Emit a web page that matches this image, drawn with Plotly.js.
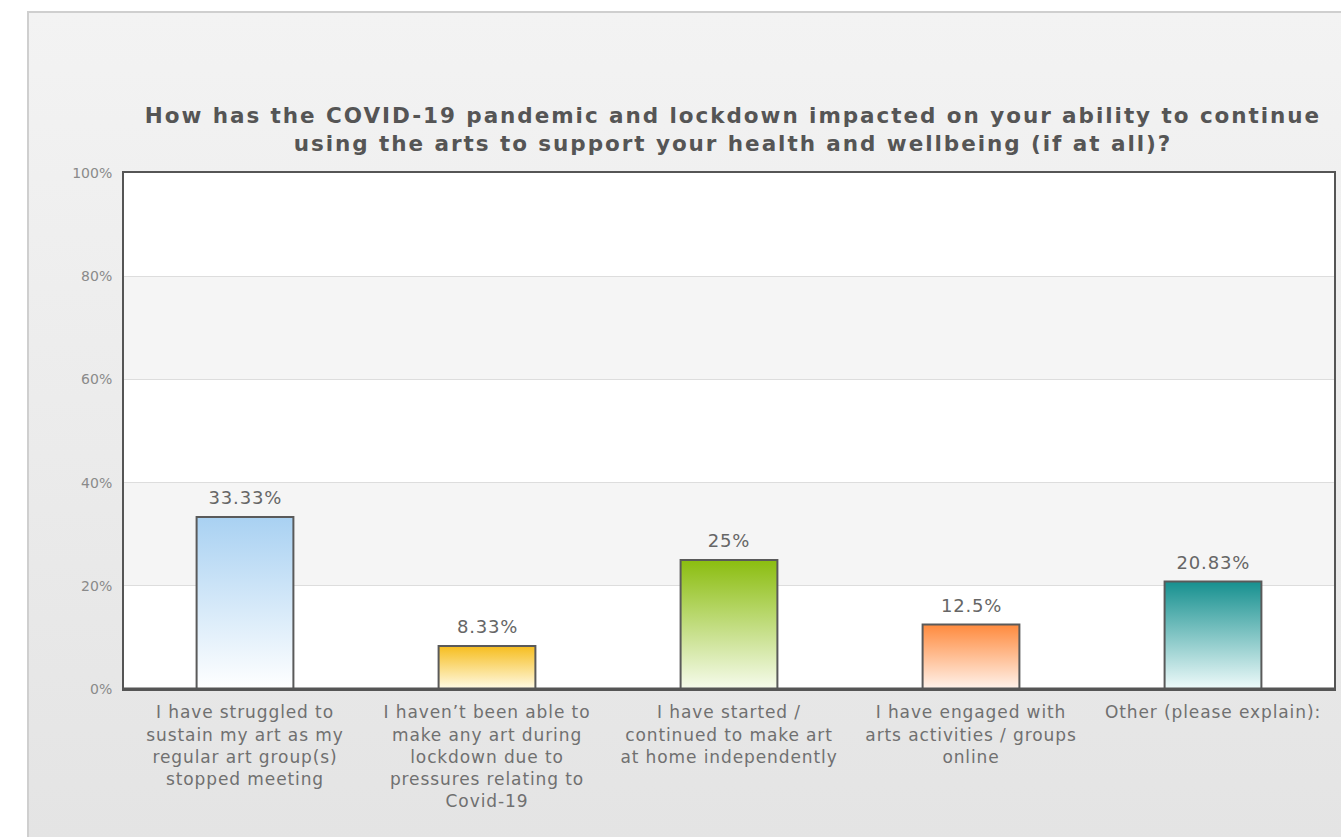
<!DOCTYPE html>
<html>
<head>
<meta charset="utf-8">
<script src="https://cdn.plot.ly/plotly-3.0.1.min.js"></script>
<style>
  html, body { margin:0; padding:0; background:#ffffff; width:1341px; height:837px; overflow:hidden; }
  #frame { position:absolute; left:27px; top:11px; width:1320px; height:830px;
           background:linear-gradient(#f3f3f3, #e4e4e4); border:2px solid #cfcfcf; box-sizing:border-box; }
  #chart { position:absolute; left:0; top:0; width:1341px; height:837px; }
</style>
</head>
<body>
<div id="frame"></div>
<div id="chart"></div>
<script>
const categories = [
  "I have struggled to<br>sustain my art as my<br>regular art group(s)<br>stopped meeting",
  "I haven’t been able to<br>make any art during<br>lockdown due to<br>pressures relating to<br>Covid-19",
  "I have started /<br>continued to make art<br>at home independently",
  "I have engaged with<br>arts activities / groups<br>online",
  "Other (please explain):"
];
const values = [33.33, 8.33, 25, 12.5, 20.83];
const valueLabels = ["33.33%", "8.33%", "25%", "12.5%", "20.83%"];
const topColors = ["#a9d1f2", "#f6bd1e", "#8bbd0f", "#ff8a3d", "#16908f"];
const bottomColors = ["#ffffff", "#fffbe6", "#f6fbec", "#fff3ec", "#eefafa"];
const yTicks = [0, 20, 40, 60, 80, 100];
const yTickText = ["0%", "20%", "40%", "60%", "80%", "100%"];

const FONT = "DejaVu Sans, Verdana, sans-serif";

const trace = {
  type: "bar",
  x: categories,
  y: values,
  width: 0.4,
  marker: { color: topColors, line: { color: "#5a5a5a", width: 2 } },
  hoverinfo: "none"
};

const annotations = values.map((v, i) => ({
  x: categories[i], y: v, xref: "x", yref: "y",
  text: valueLabels[i], showarrow: false, yanchor: "bottom", yshift: 7,
  font: { family: FONT, size: 18, color: "#666666" }
}));

const bands = [];
for (let i = 1; i < yTicks.length - 1; i += 2) {
  bands.push({ type: "rect", xref: "paper", yref: "y", x0: 0, x1: 1, y0: yTicks[i], y1: yTicks[i + 1],
    fillcolor: "#f5f5f5", line: { width: 0 }, layer: "below" });
}

const layout = {
  width: 1341, height: 837,
  margin: { l: 124, r: 7, t: 173, b: 148 },
  paper_bgcolor: "rgba(0,0,0,0)",
  plot_bgcolor: "#ffffff",
  showlegend: false,
  title: {
    text: "How has the COVID-19 pandemic and lockdown impacted on your ability to continue<br>using the arts to support your health and wellbeing (if at all)?",
    font: { family: FONT, size: 21.5, color: "#555555", weight: "bold" },
    x: 0.5466, xanchor: "center", y: 0.853, yanchor: "middle"
  },
  xaxis: {
    showline: true, linecolor: "#555555", linewidth: 2, mirror: true,
    tickfont: { family: FONT, size: 17, color: "#707070" },
    ticks: "", ticklabelstandoff: 7, fixedrange: true
  },
  yaxis: {
    range: [0, 100], tickvals: yTicks, ticktext: yTickText,
    showline: true, linecolor: "#555555", linewidth: 2, mirror: true,
    gridcolor: "#dddddd", gridwidth: 1, zeroline: false,
    tickfont: { family: FONT, size: 14, color: "#8a8a8a" },
    ticks: "", ticklabelstandoff: 7, fixedrange: true
  },
  shapes: bands.concat([{ type: "line", xref: "paper", yref: "y", x0: 0, x1: 1, y0: 0, y1: 0,
    line: { color: "#555555", width: 3 } }]),
  annotations: annotations
};

Plotly.newPlot("chart", [trace], layout, { displayModeBar: false, staticPlot: true }).then(gd => {
  const svgNS = "http://www.w3.org/2000/svg";
  const svg = gd.querySelector("svg.main-svg");
  let defs = svg.querySelector("defs");
  if (!defs) { defs = document.createElementNS(svgNS, "defs"); svg.insertBefore(defs, svg.firstChild); }
  topColors.forEach((c, i) => {
    const g = document.createElementNS(svgNS, "linearGradient");
    g.setAttribute("id", "bargrad" + i);
    g.setAttribute("x1", "0"); g.setAttribute("y1", "0"); g.setAttribute("x2", "0"); g.setAttribute("y2", "1");
    const s1 = document.createElementNS(svgNS, "stop");
    s1.setAttribute("offset", "0"); s1.setAttribute("stop-color", c);
    const s2 = document.createElementNS(svgNS, "stop");
    s2.setAttribute("offset", "1"); s2.setAttribute("stop-color", bottomColors[i]);
    g.appendChild(s1); g.appendChild(s2); defs.appendChild(g);
  });
  gd.querySelectorAll(".barlayer .point path").forEach((p, i) => {
    p.style.fill = "url(#bargrad" + i + ")";
  });
  gd.querySelectorAll(".g-gtitle text").forEach(t => { t.style.letterSpacing = "1.95px"; });
  gd.querySelectorAll(".xtick text").forEach(t => { t.style.letterSpacing = "0.9px"; });
  gd.querySelectorAll(".annotation text").forEach(t => { t.style.letterSpacing = "0.8px"; });
});
</script>
</body>
</html>
